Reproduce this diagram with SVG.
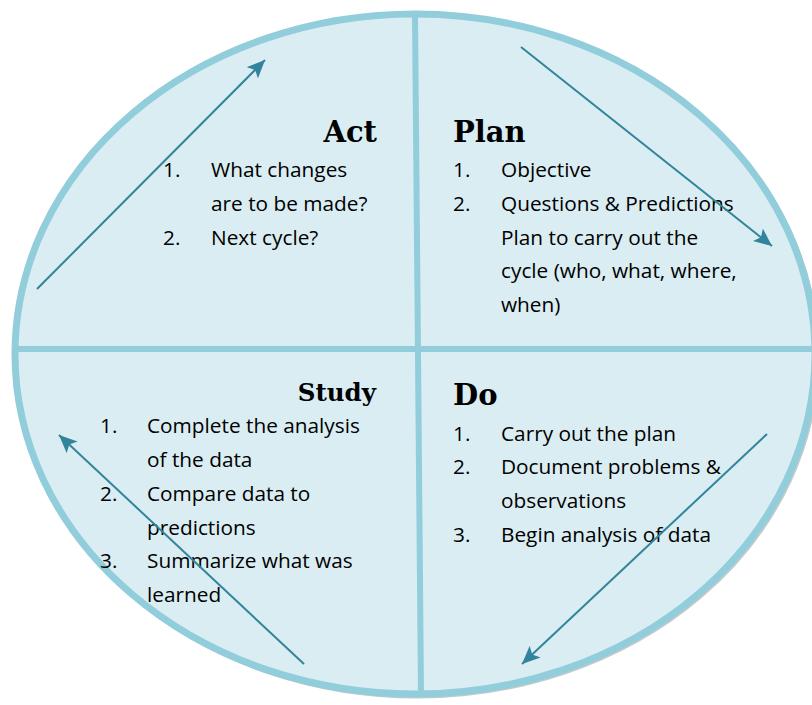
<svg xmlns="http://www.w3.org/2000/svg" width="812" height="705" viewBox="0 0 812 705">
<style>
.head{font-family:"DejaVu Serif","Liberation Serif",serif;font-weight:bold;font-size:29px;fill:#000}
.body{font-family:"Open Sans","Noto Sans","Liberation Sans",sans-serif;font-size:20.8px;fill:#000}
.div{stroke:#92cddc;stroke-width:6;fill:none}
.arrow{stroke:#31849b;stroke-width:2;fill:none;marker-end:url(#ah)}
</style>
<defs>
<marker id="ah" markerUnits="userSpaceOnUse" markerWidth="20" markerHeight="16" refX="18" refY="8" orient="auto">
<path d="M0,0 L18,8 L0,16 L4,8 Z" fill="#31849b"/>
</marker>
</defs>
<rect width="812" height="705" fill="#ffffff"/>
<g id="cycle">
<ellipse cx="417" cy="356" rx="400" ry="340" fill="none" stroke="#8a9ea3" stroke-width="5" opacity="0.55"/>
<ellipse cx="415" cy="354" rx="400" ry="340" fill="#daedf3" stroke="#92cddc" stroke-width="7"/>
<line class="div" x1="415" y1="14" x2="421" y2="695"/>
<line class="div" x1="14" y1="349" x2="812" y2="349"/>
</g>
<g id="act">
<text class="head" x="377" y="142" text-anchor="end">Act</text>
<text class="body" x="163" y="177">1.</text>
<text class="body" x="211" y="177">What changes</text>
<text class="body" x="211" y="211">are to be made?</text>
<text class="body" x="163" y="245">2.</text>
<text class="body" x="211" y="245">Next cycle?</text>
</g>
<g id="plan">
<text class="head" x="453" y="142">Plan</text>
<text class="body" x="453" y="177">1.</text>
<text class="body" x="501" y="177">Objective</text>
<text class="body" x="453" y="211">2.</text>
<text class="body" x="501" y="211">Questions &amp; Predictions</text>
<text class="body" x="501" y="245">Plan to carry out the</text>
<text class="body" x="501" y="278">cycle (who, what, where,</text>
<text class="body" x="501" y="312">when)</text>
</g>
<g id="study">
<text class="head" x="376" y="401" text-anchor="end" style="font-size:24.5px">Study</text>
<text class="body" x="100" y="433">1.</text>
<text class="body" x="147" y="433">Complete the analysis</text>
<text class="body" x="147" y="467">of the data</text>
<text class="body" x="100" y="501">2.</text>
<text class="body" x="147" y="501">Compare data to</text>
<text class="body" x="147" y="535">predictions</text>
<text class="body" x="100" y="568">3.</text>
<text class="body" x="147" y="568">Summarize what was</text>
<text class="body" x="147" y="602">learned</text>
</g>
<g id="do">
<text class="head" x="453" y="405">Do</text>
<text class="body" x="453" y="441">1.</text>
<text class="body" x="501" y="441">Carry out the plan</text>
<text class="body" x="453" y="474">2.</text>
<text class="body" x="501" y="474">Document problems &amp;</text>
<text class="body" x="501" y="508">observations</text>
<text class="body" x="453" y="542">3.</text>
<text class="body" x="501" y="542">Begin analysis of data</text>
</g>
<g id="connectors">
<line class="arrow" x1="37" y1="289" x2="265" y2="60"/>
<line class="arrow" x1="521" y1="47" x2="772" y2="246"/>
<line class="arrow" x1="767" y1="434" x2="522" y2="664"/>
<line class="arrow" x1="304" y1="664" x2="59" y2="435"/>
</g>
</svg>
